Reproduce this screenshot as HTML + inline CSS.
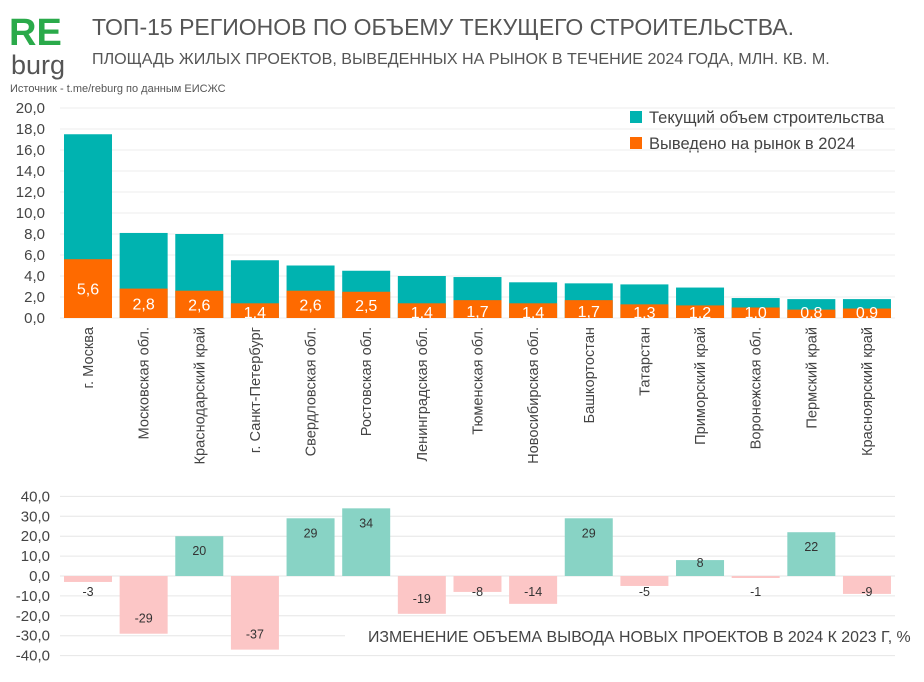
<!DOCTYPE html>
<html><head><meta charset="utf-8"><style>
body{margin:0;background:#fff;width:924px;height:677px;overflow:hidden;font-family:"Liberation Sans","Noto Sans CJK SC",sans-serif}
svg text{font-family:"Liberation Sans","Noto Sans CJK SC",sans-serif}
</style></head><body>
<svg id="c" width="924" height="677">
<text x="9" y="45" font-size="38" font-weight="bold" fill="#2aaa4a">RE</text>
<text x="11" y="74" font-size="27" fill="#555">burg</text>
<text x="92" y="35" font-size="23" fill="#555">ТОП-15 РЕГИОНОВ ПО ОБЪЕМУ ТЕКУЩЕГО СТРОИТЕЛЬСТВА.</text>
<text x="92" y="64" font-size="16.1" fill="#555">ПЛОЩАДЬ ЖИЛЫХ ПРОЕКТОВ, ВЫВЕДЕННЫХ НА РЫНОК В ТЕЧЕНИЕ  2024 ГОДА, МЛН. КВ. М.</text>
<text x="10" y="92" font-size="11" fill="#555">Источник - t.me/reburg по данным ЕИСЖС</text>
<rect x="630" y="111" width="12" height="12" fill="#00b3b0"/>
<text x="649" y="123" font-size="16.5" fill="#444">Текущий объем строительства</text>
<rect x="630" y="137" width="12" height="12" fill="#fe6a00"/>
<text x="649" y="149" font-size="16.5" fill="#444">Выведено на рынок в 2024</text>
<text x="368" y="642" font-size="15.9" fill="#444">ИЗМЕНЕНИЕ ОБЪЕМА ВЫВОДА НОВЫХ ПРОЕКТОВ В 2024 К  2023 Г, %</text>
</svg>
<script>
const categories=["г. Москва","Московская обл.","Краснодарский край","г. Санкт-Петербург","Свердловская обл.","Ростовская обл.","Ленинградская обл.","Тюменская обл.","Новосибирская обл.","Башкортостан","Татарстан","Приморский край","Воронежская обл.","Пермский край","Красноярский край"];
const totalValues=[17.5,8.1,8.0,5.5,5.0,4.5,4.0,3.9,3.4,3.3,3.2,2.9,1.9,1.8,1.8];
const launchedValues=[5.6,2.8,2.6,1.4,2.6,2.5,1.4,1.7,1.4,1.7,1.3,1.2,1.0,0.8,0.9];
const changeValues=[-3,-29,20,-37,29,34,-19,-8,-14,29,-5,8,-1,22,-9];
const topTicks=[0,2,4,6,8,10,12,14,16,18,20];
const bottomTicks=[-40,-30,-20,-10,0,10,20,30,40];
const svg=document.getElementById('c');const NS='http://www.w3.org/2000/svg';
function mk(t,a,txt){const e=document.createElementNS(NS,t);for(const k in a)e.setAttribute(k,a[k]);if(txt!==undefined)e.textContent=txt;svg.appendChild(e);return e;}
const xC=i=>88+i*55.64, bw=48;
const yT=v=>318-v*10.5;
const yB=v=>576-v*1.99;
const fmt=v=>v.toFixed(1).replace('.',',');
topTicks.forEach(t=>{
 const g=mk('line',{x1:60,x2:895,y1:yT(t),y2:yT(t),stroke:'#eee','stroke-width':1});
 
 
 const l=mk('text',{x:45,y:yT(t)+5,'font-size':15,fill:'#444','text-anchor':'end'},fmt(t));
 
 
});
categories.forEach((c,i)=>{
 const x=xC(i)-bw/2;
 const b=mk('rect',{x:x,y:yT(totalValues[i]),width:bw,height:yT(0)-yT(totalValues[i]),fill:'#00b3b0'});
 
 
 const o=mk('rect',{x:x,y:yT(launchedValues[i]),width:bw,height:yT(0)-yT(launchedValues[i]),fill:'#fe6a00'});
 
 
 const ly=Math.min((yT(launchedValues[i])+yT(0))/2+6,316)+(launchedValues[i]<2?2:0);
 const lt=mk('text',{x:xC(i),y:ly,'font-size':16,fill:'#fff','text-anchor':'middle'},fmt(launchedValues[i]));
 
 
 const cl=mk('text',{transform:`translate(${xC(i)+5},327) rotate(-90)`,'font-size':14.6,fill:'#444','text-anchor':'end'},c);
 
 
});
bottomTicks.forEach(t=>{
 const g=mk('line',{x1:60,x2:t===-30?345:895,y1:yB(t),y2:yB(t),stroke:'#e6e6e6','stroke-width':1});
 
 
 const l=mk('text',{x:50,y:yB(t)+5,'font-size':15,fill:'#444','text-anchor':'end'},fmt(t));
 
 
});
changeValues.forEach((v,i)=>{
 const x=xC(i)-bw/2;
 const y0=Math.min(yB(v),yB(0)), h=Math.abs(yB(v)-yB(0));
 const b=mk('rect',{x:x,y:y0,width:bw,height:Math.max(h,1),fill:v>=0?'#88d3c5':'#fcc6c6'});
 
 
 const ty=v>=0?Math.min(yB(v)+15,563):Math.max(yB(v)-15,592);
 const t=mk('text',{x:xC(i),y:ty+4,'font-size':12.5,fill:'#333','text-anchor':'middle'},String(v));
 
 
});
</script>
</body></html>
